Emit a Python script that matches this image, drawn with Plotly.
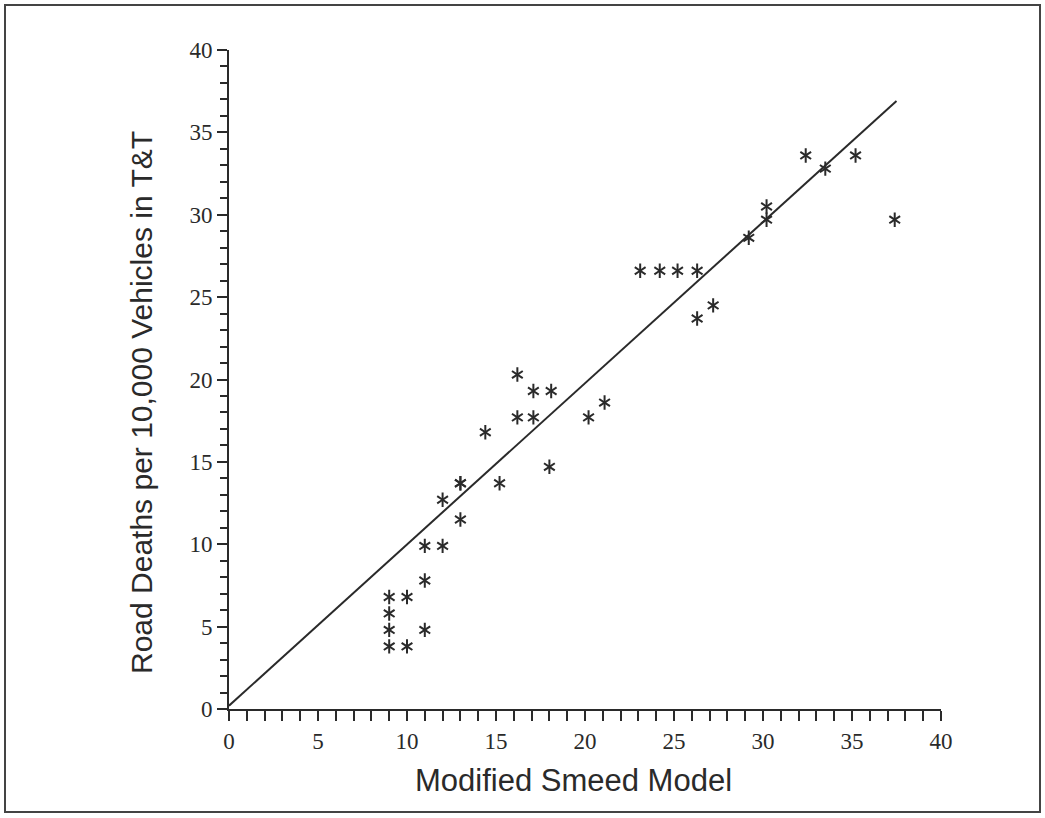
import plotly.graph_objects as go

# Data
smeed_x = [9, 9, 9, 9, 10, 10, 11, 11, 11, 12, 12, 13, 13, 13, 14.4, 15.2,
           16.2, 16.2, 17.1, 17.1, 18.1, 18.0, 20.2, 21.1,
           23.1, 24.2, 25.2, 26.3, 26.3, 27.2, 29.2, 30.2, 30.2,
           32.4, 33.5, 35.2, 37.4]
deaths_y = [6.8, 5.8, 4.8, 3.8, 6.8, 3.8, 7.8, 9.9, 4.8, 9.9, 12.7, 13.7, 11.5, 13.7, 16.8, 13.7,
            20.3, 17.7, 19.3, 17.7, 19.3, 14.7, 17.7, 18.6,
            26.6, 26.6, 26.6, 26.6, 23.7, 24.5, 28.6, 30.5, 29.7,
            33.6, 32.8, 33.6, 29.7]
# fitted line end points
line_x = [0, 37.5]
line_y = [0.2, 36.9]

x_ticks = [0, 5, 10, 15, 20, 25, 30, 35, 40]
y_ticks = [0, 5, 10, 15, 20, 25, 30, 35, 40]
x_title = "Modified Smeed Model"
y_title = "Road Deaths per 10,000 Vehicles in T&T"

ink = "#2a2a2a"
fig = go.Figure()
fig.add_trace(go.Scatter(x=line_x, y=line_y, mode="lines",
                         line=dict(color=ink, width=2), showlegend=False, hoverinfo="skip"))
for sym in ["y-up-open", "y-down-open"]:
    fig.add_trace(go.Scatter(x=smeed_x, y=deaths_y, mode="markers",
                             marker=dict(symbol=sym, size=9, line=dict(color=ink, width=2), color=ink),
                             showlegend=False))

tickfont = dict(family="Liberation Serif, Times New Roman, serif", size=23, color=ink)
titlefont_x = dict(family="Liberation Sans, Arial, sans-serif", size=31, color=ink)
titlefont_y = dict(family="Liberation Sans, Arial, sans-serif", size=30, color=ink)

fig.update_xaxes(range=[0, 40], tickvals=x_ticks, ticktext=[str(v) for v in x_ticks],
                 showline=True, linecolor=ink, linewidth=2, ticks="outside", ticklen=10,
                 tickwidth=2, tickcolor=ink, showgrid=False, zeroline=False,
                 minor=dict(dtick=1, ticks="outside", ticklen=10, tickwidth=2, tickcolor=ink, showgrid=False),
                 tickfont=tickfont)
fig.update_yaxes(range=[0, 40], tickvals=y_ticks, ticktext=[str(v) for v in y_ticks],
                 showline=True, linecolor=ink, linewidth=2, ticks="outside", ticklen=10,
                 tickwidth=2, tickcolor=ink, showgrid=False, zeroline=False,
                 minor=dict(dtick=1, ticks="outside", ticklen=7, tickwidth=2, tickcolor=ink, showgrid=False),
                 tickfont=tickfont)

W, H = 1045, 818
L, R, T, B = 229, 104, 50, 109
pw, ph = W - L - R, H - T - B


def px_to_paper(px, py):
    return (px - L) / pw, (H - B - py) / ph


xt = px_to_paper(573, 780)
yt = px_to_paper(141, 403)

fig.update_layout(
    width=W, height=H,
    margin=dict(l=L, r=R, t=T, b=B),
    plot_bgcolor="white", paper_bgcolor="white",
    annotations=[
        dict(text=x_title, xref="paper", yref="paper", x=xt[0], y=xt[1],
             xanchor="center", yanchor="middle", showarrow=False, font=titlefont_x),
        dict(text=y_title, xref="paper", yref="paper", x=yt[0], y=yt[1],
             xanchor="center", yanchor="middle", showarrow=False, textangle=-90, font=titlefont_y),
    ],
    shapes=[dict(type="rect", xref="paper", yref="paper",
                 x0=(5 - L) / pw, x1=(1040 - L) / pw,
                 y0=(H - B - 812) / ph, y1=(H - B - 5) / ph,
                 line=dict(color="#444", width=2), fillcolor="rgba(0,0,0,0)", layer="below")],
)

fig.write_html("out.html", config={"displayModeBar": False},
               post_script="document.body.style.margin='0';document.body.style.overflow='hidden';")
